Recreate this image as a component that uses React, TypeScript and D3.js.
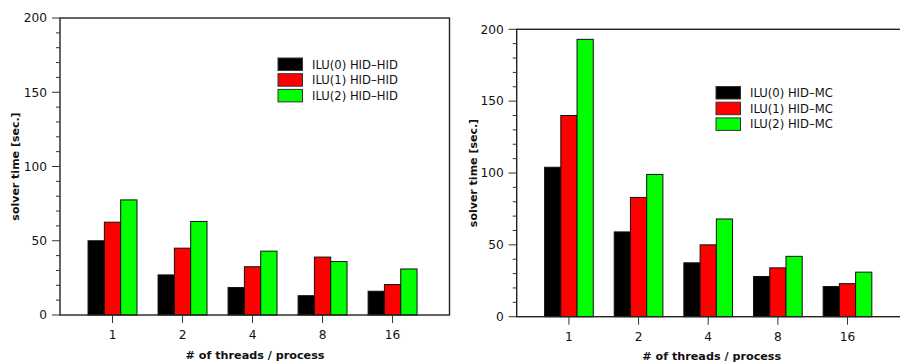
import React from "react";
import * as d3 from "d3";

const categories = ["1", "2", "4", "8", "16"];
const seriesColors = ["#000000", "#ff0000", "#00ff00"];

const leftLabels = ["ILU(0) HID\u2013HID", "ILU(1) HID\u2013HID", "ILU(2) HID\u2013HID"];
const leftIlu0 = [50, 27, 18.5, 13, 16];
const leftIlu1 = [62.5, 45, 32.5, 39, 20.5];
const leftIlu2 = [77.5, 63, 43, 36, 31];

const rightLabels = ["ILU(0) HID\u2013MC", "ILU(1) HID\u2013MC", "ILU(2) HID\u2013MC"];
const rightIlu0 = [104, 59, 37.5, 28, 21];
const rightIlu1 = [140, 83, 50, 34, 23];
const rightIlu2 = [193, 99, 68, 42, 31];

const yMajorTicks = [0, 50, 100, 150, 200];
const yMinorTicks = d3.range(0, 201, 10);

const FONT = "'DejaVu Sans', Verdana, sans-serif";

type PanelProps = {
  series: number[][];
  labels: string[];
  left: number;
  right: number;
  top: number;
  bottom: number;
  frameRight: number;
  xTitleY: number;
  yTitleX: number;
  legendX: number;
  legendY: number;
};

function Panel(p: PanelProps) {
  const x = d3.scaleLinear().domain([0.25, 5.82]).range([p.left, p.right]);
  const y = d3.scaleLinear().domain([0, 200]).range([p.bottom, p.top]);
  const unit = x(1) - x(0);
  const bw = unit * 0.233;
  return (
    <g>
      {p.series.map((vals, s) =>
        vals.map((v, i) => {
          const cx = x(i + 1);
          const x0 = cx - 1.5 * bw + s * bw;
          return (
            <rect
              key={`b${s}-${i}`}
              x={x0}
              y={y(v)}
              width={bw}
              height={y(0) - y(v)}
              fill={seriesColors[s]}
              stroke="#111"
              strokeWidth={1}
            />
          );
        })
      )}
      <rect
        x={p.left}
        y={p.top}
        width={p.frameRight - p.left}
        height={p.bottom - p.top}
        fill="none"
        stroke="#222"
        strokeWidth={1.4}
      />
      {yMinorTicks.map((t) => {
        const major = t % 50 === 0;
        return (
          <line
            key={`yt${t}`}
            x1={p.left - (major ? 8 : 4)}
            x2={p.left}
            y1={y(t)}
            y2={y(t)}
            stroke="#333"
            strokeWidth={1}
          />
        );
      })}
      {yMajorTicks.map((t) => (
        <text
          key={`yl${t}`}
          x={p.left - 13}
          y={y(t)}
          dy="0.35em"
          textAnchor="end"
          fontSize={12.2}
          fontFamily={FONT}
          fill="#111"
        >
          {t}
        </text>
      ))}
      {categories.map((c, i) => (
        <g key={`xt${i}`}>
          <line
            x1={x(i + 1)}
            x2={x(i + 1)}
            y1={p.bottom}
            y2={p.bottom + 8}
            stroke="#333"
            strokeWidth={1}
          />
          <text
            x={x(i + 1)}
            y={p.bottom + 20}
            dy="0.35em"
            textAnchor="middle"
            fontSize={12.2}
            fontFamily={FONT}
            fill="#111"
          >
            {c}
          </text>
        </g>
      ))}
      <text
        x={p.left + 195}
        y={p.xTitleY}
        dy="0.35em"
        textAnchor="middle"
        fontSize={11.2}
        fontWeight="bold"
        fontFamily={FONT}
        fill="#111"
      >
        # of threads / process
      </text>
      <text
        transform={`translate(${p.yTitleX},${(p.top + p.bottom) / 2}) rotate(-90)`}
        dy="0.35em"
        textAnchor="middle"
        fontSize={11}
        fontWeight="bold"
        fontFamily={FONT}
        fill="#111"
      >
        solver time [sec.]
      </text>
      {p.labels.map((l, s) => (
        <g key={`lg${s}`} transform={`translate(${p.legendX},${p.legendY + s * 15.7})`}>
          <rect x={0} y={0} width={24.5} height={12.5} fill={seriesColors[s]} stroke="#333" strokeWidth={1} />
          <text
            x={34}
            y={6.5}
            dy="0.35em"
            fontSize={11.6}
            fontFamily={FONT}
            fill="#111"
          >
            {l}
          </text>
        </g>
      ))}
    </g>
  );
}

export default function App() {
  return (
    <svg
      width={900}
      height={362}
      style={{ position: "absolute", left: 0, top: 0, display: "block", background: "#fff" }}
    >
      <rect x={0} y={0} width={900} height={362} fill="#fff" />
      <Panel
        series={[leftIlu0, leftIlu1, leftIlu2]}
        labels={leftLabels}
        left={60}
        right={450}
        top={18}
        bottom={315}
        frameRight={449.5}
        xTitleY={355}
        yTitleX={15}
        legendX={278}
        legendY={58}
      />
      <Panel
        series={[rightIlu0, rightIlu1, rightIlu2]}
        labels={rightLabels}
        left={516.7}
        right={904.6}
        top={29.3}
        bottom={316.7}
        frameRight={910}
        xTitleY={356}
        yTitleX={472.7}
        legendX={716}
        legendY={86.5}
      />
    </svg>
  );
}
